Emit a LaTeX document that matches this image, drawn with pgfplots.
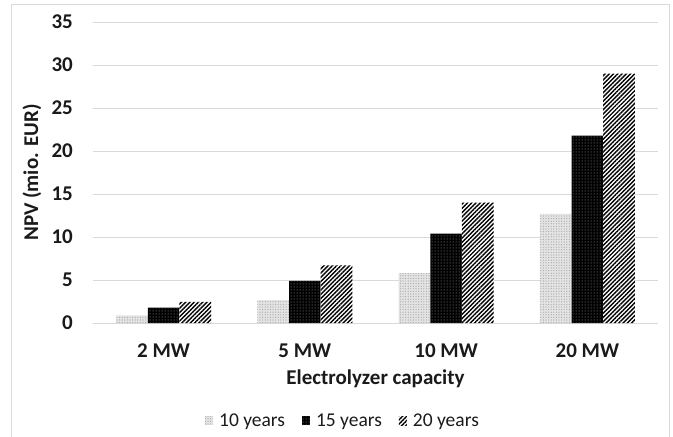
\documentclass[border=0pt]{standalone}
\usepackage{pgfplots}
\pgfplotsset{compat=1.18}
\usepackage{fontspec}
\setmainfont{Carlito}
\usetikzlibrary{patterns.meta}
\definecolor{gridgray}{HTML}{D9D9D9}
\definecolor{txt}{HTML}{1A1A1A}
\newcommand{\chartfont}{\fontsize{21}{24}\selectfont}
\newcommand{\legendfont}{\fontsize{19.5}{22}\selectfont}

\begin{document}
\begin{tikzpicture}[x=1pt,y=1pt]
\useasboundingbox (0,0) rectangle (673,437);
% chart area frame
\draw[gridgray, line width=1pt] (11.7,-20) rectangle (669,432.7);
\begin{axis}[
  at={(93pt,114pt)}, anchor=south west,
  scale only axis, width=565pt, height=301pt,
  xmin=-0.5, xmax=3.5, ymin=0, ymax=35,
  ytick={0,5,...,35},
  xtick={0,1,2,3},
  xticklabels={2 MW,5 MW,10 MW,20 MW},
  axis line style={draw=none},
  major tick length=0pt,
  ymajorgrids,
  grid style={gridgray, line width=1pt},
  /pgf/number format/assume math mode=true,
  tick label style={font=\chartfont\bfseries, text=txt},
  yticklabel style={anchor=east, inner sep=0pt, xshift=-20pt},
  xticklabel style={anchor=base, inner sep=0pt, yshift=-34pt},
  every axis x label/.style={at={(axis description cs:0.5,-0.186)}, anchor=center},
  every axis y label/.style={at={(axis description cs:-0.108,0.5)}, rotate=90, anchor=center,
    font=\fontsize{20}{24}\selectfont\bfseries},
  label style={font=\chartfont\bfseries, text=txt},
  xlabel={Electrolyzer capacity},
  ylabel={NPV (mio. EUR)},
  ybar,
  bar width=0.2245,
  legend style={at={(0.4425,-0.325)}, anchor=center, draw=none, fill=none,
    legend columns=3, font=\legendfont, text=txt, inner sep=0pt,
    /tikz/every odd column/.append style={column sep=4pt},
    /tikz/every even column/.append style={column sep=15pt}},
  legend image code/.code={\path[#1, draw=none] (0pt,-4.5pt) rectangle (8pt,4.5pt);},
]
% 10 years
\addplot[bar shift=-0.2245, draw=none, fill=gray!22,
  postaction={pattern={Dots[distance=2.6pt, radius=0.6pt]}, pattern color=gray!70}]
  coordinates {(0,0.9) (1,2.65) (2,5.8) (3,12.7)};
\addlegendentry{10 years}
% 15 years
\addplot[bar shift=0, draw=none, fill=black,
  postaction={pattern={Dots[distance=3pt, radius=0.5pt]}, pattern color=gray!65}]
  coordinates {(0,1.8) (1,4.9) (2,10.4) (3,21.8)};
\addlegendentry{15 years}
% 20 years
\addplot[bar shift=0.2245, draw=none, fill=white,
  postaction={pattern={Lines[angle=45, distance=3pt, line width=1.4pt]}, pattern color=black}]
  coordinates {(0,2.45) (1,6.7) (2,14.0) (3,29.0)};
\addlegendentry{20 years}
\end{axis}
\end{tikzpicture}
\end{document}
